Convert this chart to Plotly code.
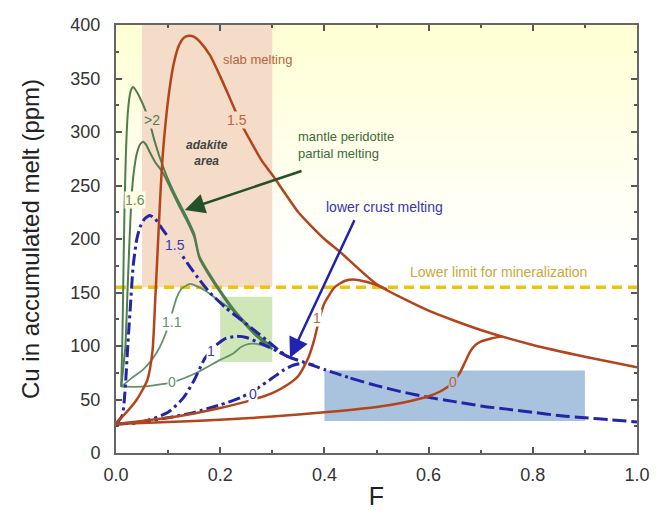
import plotly.graph_objects as go

# ---------------- data ----------------
# Slab melting (brown)
slab15_x = [0.0, 0.02, 0.04, 0.06, 0.07, 0.075, 0.08, 0.085, 0.09, 0.10, 0.11, 0.12, 0.13, 0.14, 0.15, 0.16,
            0.18, 0.20, 0.22, 0.24, 0.26, 0.28, 0.30, 0.35, 0.40, 0.43, 0.50, 0.60, 0.70, 0.80, 0.90, 1.00]
slab15_y = [28, 38, 50, 68, 95, 140, 190, 240, 280, 330, 362, 380, 388, 390, 389, 385,
            372, 352, 330, 308, 290, 273, 260, 225, 200, 188, 158, 133, 115, 101, 90, 80]
slab1_x = [0.0, 0.05, 0.10, 0.15, 0.20, 0.25, 0.30, 0.33, 0.35, 0.36, 0.37, 0.38, 0.39, 0.40, 0.42, 0.44, 0.46, 0.48, 0.50, 0.52]
slab1_y = [27, 30, 33, 37, 42, 48, 56, 64, 72, 80, 90, 105, 125, 140, 155, 161, 162, 160, 157, 153]
slab0_x = [0.0, 0.10, 0.20, 0.30, 0.40, 0.50, 0.55, 0.60, 0.62, 0.64, 0.66, 0.67, 0.68, 0.69, 0.70, 0.72, 0.74]
slab0_y = [27, 29, 31, 34, 38, 43, 47, 53, 57, 63, 75, 85, 95, 101, 104, 107, 109]

# Mantle peridotite partial melting (green)
m2_x = [0.01, 0.012, 0.014, 0.016, 0.019, 0.023, 0.028, 0.033, 0.038, 0.045, 0.055, 0.065, 0.075, 0.09,
        0.105, 0.12, 0.136, 0.15, 0.16, 0.18, 0.20, 0.225, 0.25, 0.27, 0.29, 0.30]
m2_y = [62, 100, 160, 220, 280, 320, 338, 342, 339, 333, 322, 308, 290, 268,
        250, 235, 220, 205, 184, 167, 152, 135, 121, 111, 103, 99]
m16_x = [0.01, 0.018, 0.022, 0.026, 0.030, 0.034, 0.040, 0.047, 0.052, 0.058, 0.065, 0.075, 0.09,
         0.105, 0.12, 0.136, 0.15, 0.16, 0.18, 0.20, 0.225, 0.25, 0.27, 0.29, 0.30]
m16_y = [62, 100, 150, 200, 240, 262, 280, 289, 291, 288, 281, 272, 262,
         247, 232, 217, 202, 182, 165, 150, 133, 119, 109, 101, 97]
m11_x = [0.01, 0.03, 0.052, 0.07, 0.084, 0.10, 0.117, 0.127, 0.142, 0.155, 0.17, 0.19, 0.21, 0.225, 0.25, 0.27, 0.29, 0.30]
m11_y = [62, 70, 78, 88, 99, 118, 146, 154, 158, 156, 152, 145, 138, 133, 119, 109, 101, 97]
m0_x = [0.01, 0.05, 0.107, 0.155, 0.20, 0.225, 0.24, 0.255, 0.27, 0.285, 0.30]
m0_y = [62, 62, 66, 75, 87, 93, 99, 102, 102, 100, 98]

# Lower crust melting (blue)
c15_x = [0.0, 0.012, 0.017, 0.023, 0.028, 0.033, 0.040, 0.046, 0.055, 0.065, 0.075, 0.088, 0.10, 0.113,
         0.125, 0.142, 0.16, 0.18, 0.21, 0.244, 0.27, 0.29, 0.31, 0.33, 0.36, 0.40, 0.45]
c15_y = [27, 35, 56, 103, 140, 175, 200, 211, 219, 222, 219, 210, 202, 194,
         186, 174, 162, 150, 136, 123, 113, 105, 97, 90, 85, 78, 70]
c15t_x = [0.45, 0.50, 0.55, 0.60, 0.65, 0.70, 0.75, 0.80, 0.85, 0.90, 0.95, 1.00]
c15t_y = [70, 63, 57, 52, 48, 44, 41, 38, 35, 33, 31, 29]
c1_x = [0.0, 0.05, 0.10, 0.13, 0.15, 0.17, 0.19, 0.21, 0.23, 0.25, 0.28, 0.31, 0.33]
c1_y = [27, 29, 38, 52, 68, 88, 100, 107, 109, 108, 102, 95, 90]
c0_x = [0.0, 0.05, 0.10, 0.15, 0.20, 0.24, 0.27, 0.30, 0.32, 0.34, 0.36, 0.38]
c0_y = [27, 29, 33, 38, 45, 52, 60, 70, 77, 82, 84, 82]

threshold = 155  # lower limit for mineralization

# shaded fields: [x0, x1, y0, y1]
adakite_box = [0.05, 0.30, 155, 400]
mantle_box = [0.20, 0.30, 85, 146]
crust_box = [0.40, 0.90, 30, 77]

x_ticks = [0.0, 0.2, 0.4, 0.6, 0.8, 1.0]
x_labels = ["0.0", "0.2", "0.4", "0.6", "0.8", "1.0"]
y_ticks = [0, 50, 100, 150, 200, 250, 300, 350, 400]

# ---------------- colours ----------------
BROWN = "#B3441B"
GREEN = "#4E7E4E"
GREEN_L = "#62906A"
BLUE = "#2424A6"
FONT = "Liberation Sans, Arial, sans-serif"

fig = go.Figure()

# background gradient (yellow -> white)
shapes = []
n = 22
y_lo, y_hi = 185, 400
for i in range(n):
    a = y_lo + (y_hi - y_lo) * i / n
    b = y_lo + (y_hi - y_lo) * (i + 1) / n
    t = (i + 0.5) / n
    r, g, bl = 255, 255, int(round(255 - 45 * t))
    shapes.append(dict(type="rect", xref="x", yref="y", x0=0, x1=1, y0=a, y1=b,
                       fillcolor=f"rgb({r},{g},{bl})", line_width=0, layer="below"))
for box, col in [(adakite_box, "#F4DCC9"), (mantle_box, "#CFE6B8"), (crust_box, "#A9C3DF")]:
    shapes.append(dict(type="rect", xref="x", yref="y", x0=box[0], x1=box[1], y0=box[2], y1=box[3],
                       fillcolor=col, line_width=0, layer="below"))

def add(x, y, color, width, dash="solid"):
    fig.add_trace(go.Scatter(x=x, y=y, mode="lines", showlegend=False, hoverinfo="skip",
                             line=dict(color=color, width=width, dash=dash, shape="spline", smoothing=0.6)))

# threshold line
fig.add_trace(go.Scatter(x=[0, 1], y=[threshold, threshold], mode="lines", showlegend=False,
                         line=dict(color="#F2C400", width=3.5, dash="10px,6px")))

# mantle curves
add(m0_x, m0_y, GREEN_L, 1.8)
add(m11_x, m11_y, GREEN_L, 1.8)
add(m16_x, m16_y, GREEN, 2.0)
add(m2_x, m2_y, GREEN, 2.0)
# crust curves
DD = "12px,4px,3px,4px"
add(c0_x, c0_y, BLUE, 3, DD)
add(c1_x, c1_y, BLUE, 3, DD)
add(c15_x, c15_y, BLUE, 3, DD)
add(c15t_x, c15t_y, BLUE, 3, "14px,5px")
# slab curves
add(slab0_x, slab0_y, BROWN, 2.5)
add(slab1_x, slab1_y, BROWN, 2.5)
add(slab15_x, slab15_y, BROWN, 2.5)

ann = []
def lab(x, y, text, color, bg, size=14):
    ann.append(dict(x=x, y=y, xref="x", yref="y", text=text, showarrow=False,
                    font=dict(family=FONT, size=size, color=color), bgcolor=bg, borderpad=0))

lab(0.232, 311, "1.5", "#C0643C", "#F4DCC9")
lab(0.386, 126, "1", "#C0643C", "white")
lab(0.647, 66, "0", "#C0643C", "#A9C3DF")
lab(0.069, 311, ">2", GREEN, "#F4DCC9")
lab(0.036, 236, "1.6", GREEN_L, "#FEFEE4")
lab(0.113, 194, "1.5", "#3A3AB2", "#F4DCC9")
lab(0.107, 122, "1.1", GREEN_L, "white")
lab(0.107, 66, "0", GREEN_L, "white")
lab(0.182, 95, "1", "#3A3AB2", "white")
lab(0.262, 55, "0", "#3A3AB2", "white")

def txt(x, y, text, color, size, xanchor="center", italic=False, bold=False):
    t = text
    if bold:
        t = "<b>" + t + "</b>"
    if italic:
        t = "<i>" + t + "</i>"
    ann.append(dict(x=x, y=y, xref="x", yref="y", text=t, showarrow=False, xanchor=xanchor,
                    align="left" if xanchor == "left" else "center",
                    font=dict(family=FONT, size=size, color=color)))

txt(0.272, 368, "slab melting", "#B8643A", 13)
txt(0.175, 280, "adakite<br>area", "#444444", 12, italic=True, bold=True)
txt(0.345, 288, "mantle peridotite<br>partial melting", "#3C6A3A", 13, xanchor="left")
txt(0.400, 230, "lower crust melting", "#3636B0", 14, xanchor="left")
txt(0.560, 169, "Lower limit for mineralization", "#C8A83A", 14, xanchor="left")

# arrows
ann.append(dict(x=0.132, y=227, ax=0.359, ay=264, xref="x", yref="y", axref="x", ayref="y",
                text="", showarrow=True, arrowhead=2, arrowsize=1.6, arrowwidth=2.5, arrowcolor="#24502A"))
ann.append(dict(x=0.334, y=89, ax=0.459, ay=219, xref="x", yref="y", axref="x", ayref="y",
                text="", showarrow=True, arrowhead=2, arrowsize=1.6, arrowwidth=2.5, arrowcolor="#2222B0"))

axis_common = dict(showline=True, linecolor="#666666", linewidth=2, mirror="ticks",
                   ticks="inside", ticklen=6, tickwidth=1.5, tickcolor="#555555",
                   showgrid=False, zeroline=False,
                   tickfont=dict(family=FONT, size=18, color="#333333"))

fig.update_layout(
    width=662, height=516,
    margin=dict(l=116, r=25, t=25, b=63, autoexpand=False),
    paper_bgcolor="white", plot_bgcolor="white",
    shapes=shapes, annotations=ann, showlegend=False,
    xaxis=dict(range=[0, 1], tickvals=x_ticks, ticktext=x_labels,
               minor=dict(ticks="inside", ticklen=3, dtick=0.1, tickcolor="#555555"),
               title=dict(text="F", font=dict(family=FONT, size=25, color="#222222"), standoff=4),
               ticklabelstandoff=4, **axis_common),
    yaxis=dict(range=[0, 400], tickvals=y_ticks,
               minor=dict(ticks="inside", ticklen=3, dtick=25, tickcolor="#555555"),
               title=dict(text="Cu in accumulated melt (ppm)", font=dict(family=FONT, size=24, color="#222222"), standoff=24),
               ticklabelstandoff=10, **axis_common),
)

fig.write_html("out.html")
